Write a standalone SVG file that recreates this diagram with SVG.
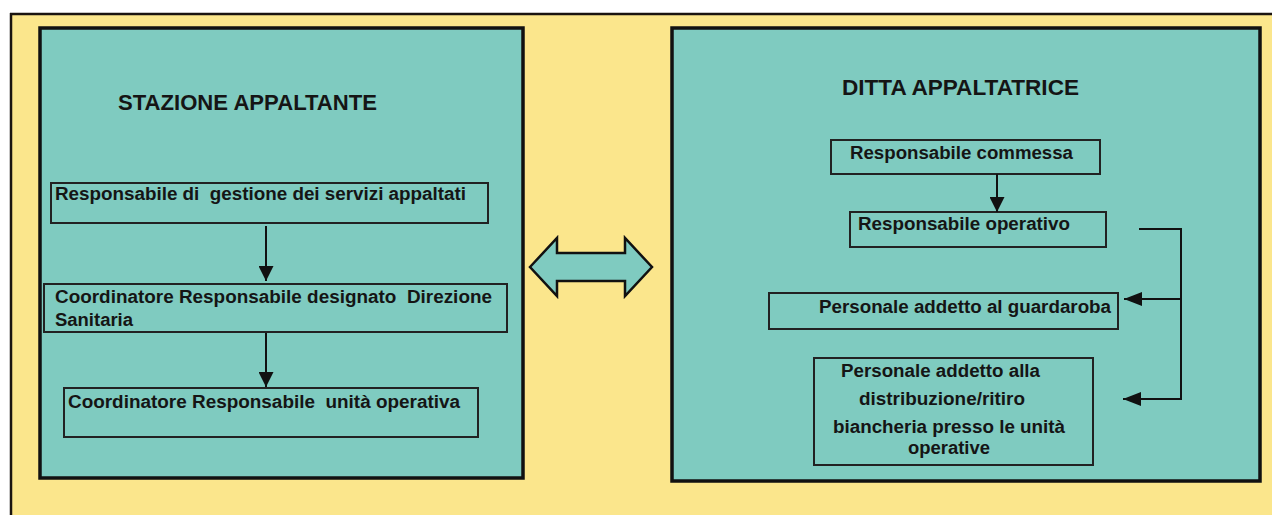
<svg xmlns="http://www.w3.org/2000/svg" width="1272" height="515" viewBox="0 0 1272 515">
<defs>
<style>
.panel{fill:#7fcbc0;stroke:#111;stroke-width:3.5}
.box{fill:none;stroke:#222;stroke-width:2}
.t{font-family:"Liberation Sans",Arial,sans-serif;font-weight:bold;font-size:18px;fill:#151515}
.title{font-family:"Liberation Sans",Arial,sans-serif;font-weight:bold;font-size:22px;fill:#151515}
.conn{fill:none;stroke:#111;stroke-width:2}
</style>
<marker id="ah" viewBox="0 0 10 10" refX="10" refY="5" markerWidth="15" markerHeight="15" markerUnits="userSpaceOnUse" orient="auto">
<path d="M0,0 L10,5 L0,10 z" fill="#111"/>
</marker>
<marker id="ahs" viewBox="0 0 10 10" refX="10" refY="5" markerWidth="18" markerHeight="14" markerUnits="userSpaceOnUse" orient="auto" preserveAspectRatio="none">
<path d="M0,0 L10,5 L0,10 z" fill="#111"/>
</marker>
</defs>
<rect x="0" y="0" width="1272" height="515" fill="#ffffff"/>
<rect x="11" y="14" width="1261" height="501" fill="#fbe68c"/>
<line x1="10" y1="14" x2="1272" y2="14" stroke="#1a1410" stroke-width="2.5"/>
<line x1="11" y1="13" x2="11" y2="515" stroke="#1a1410" stroke-width="2.5"/>

<g id="stazione-appaltante">
<rect class="panel" x="40" y="28" width="483" height="450"/>
<text class="title" x="118" y="110" textLength="259" lengthAdjust="spacingAndGlyphs">STAZIONE APPALTANTE</text>
</g>
<g id="resp-gestione">
<rect class="box" x="51" y="183" width="437" height="40"/>
<text class="t" x="55" y="200" textLength="411" lengthAdjust="spacingAndGlyphs" xml:space="preserve">Responsabile di  gestione dei servizi appaltati</text>
</g>
<g id="coord-direzione">
<rect class="box" x="44" y="284" width="463" height="48"/>
<text class="t" x="55" y="303" textLength="437" lengthAdjust="spacingAndGlyphs" xml:space="preserve">Coordinatore Responsabile designato  Direzione</text>
<text class="t" x="55" y="326" textLength="78" lengthAdjust="spacingAndGlyphs">Sanitaria</text>
</g>
<g id="coord-unita">
<rect class="box" x="64" y="388" width="414" height="49"/>
<text class="t" x="68" y="408" textLength="392" lengthAdjust="spacingAndGlyphs" xml:space="preserve">Coordinatore Responsabile  unità operativa</text>
</g>

<g id="ditta-appaltatrice">
<rect class="panel" x="672" y="28" width="588" height="453"/>
<text class="title" x="842" y="95" textLength="237" lengthAdjust="spacingAndGlyphs">DITTA APPALTATRICE</text>
</g>
<g id="resp-commessa">
<rect class="box" x="831" y="140" width="269" height="34"/>
<text class="t" x="850" y="159" textLength="223" lengthAdjust="spacingAndGlyphs">Responsabile commessa</text>
</g>
<g id="resp-operativo">
<rect class="box" x="850" y="212" width="256" height="35"/>
<text class="t" x="858" y="230" textLength="212" lengthAdjust="spacingAndGlyphs">Responsabile operativo</text>
</g>
<g id="pers-guardaroba">
<rect class="box" x="769" y="293" width="349" height="36"/>
<text class="t" x="819" y="313" textLength="292" lengthAdjust="spacingAndGlyphs">Personale addetto al guardaroba</text>
</g>
<g id="pers-distribuzione">
<rect class="box" x="814" y="358" width="279" height="107"/>
<text class="t" x="841" y="377" textLength="199" lengthAdjust="spacingAndGlyphs">Personale addetto alla</text>
<text class="t" x="859" y="405" textLength="166" lengthAdjust="spacingAndGlyphs">distribuzione/ritiro</text>
<text class="t" x="833" y="433" textLength="232" lengthAdjust="spacingAndGlyphs">biancheria presso le unità</text>
<text class="t" x="908" y="454" textLength="82" lengthAdjust="spacingAndGlyphs">operative</text>
</g>

<g id="connectors">
<line class="conn" x1="266" y1="226" x2="266" y2="281" marker-end="url(#ah)"/>
<line class="conn" x1="266" y1="333" x2="266" y2="387" marker-end="url(#ah)"/>
<line class="conn" x1="997" y1="174" x2="997" y2="212" marker-end="url(#ah)"/>
<polyline class="conn" points="1139,229 1181,229 1181,399 1123,399" marker-end="url(#ahs)"/>
<line class="conn" x1="1181" y1="299" x2="1124" y2="299" marker-end="url(#ahs)"/>
<path id="double-arrow" d="M530,267 L557,238 L557,253 L625,253 L625,238 L652,267 L625,296 L625,281 L557,281 L557,296 Z" fill="#7fcbc0" stroke="#111" stroke-width="2.5" stroke-linejoin="miter"/>
</g>
</svg>
